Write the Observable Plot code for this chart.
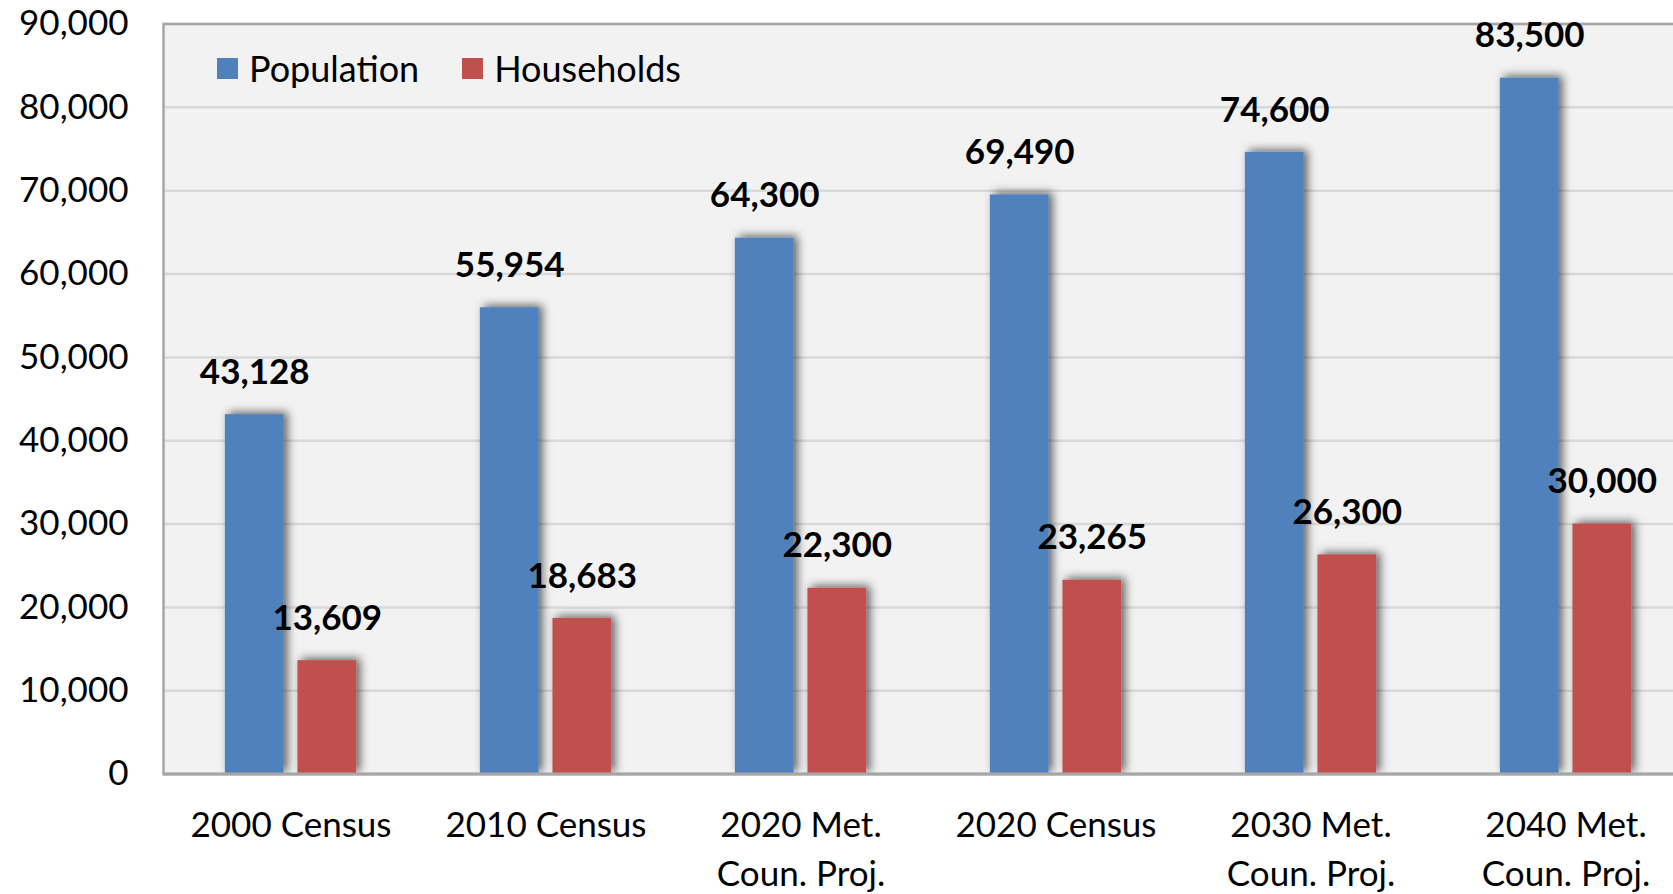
<!DOCTYPE html>
<html>
<head>
<meta charset="utf-8">
<script src="https://cdn.jsdelivr.net/npm/d3@7"></script>
<script src="https://cdn.jsdelivr.net/npm/@observablehq/plot@0.6"></script>
<style>
  html, body { margin: 0; padding: 0; background: #fff; overflow: hidden; }
  #wrap { position: relative; width: 1673px; height: 894px; font-family: Lato, "Open Sans", sans-serif; }
  #legend { position: absolute; left: 217px; top: 43px; height: 50px; display: flex; align-items: center; font-size: 36px; color: #000; }
  .item { display: flex; align-items: center; margin-right: 43px; }
  .sw { width: 21px; height: 21px; margin-right: 11px; }
</style>
</head>
<body>
<div id="wrap"><div id="legend"></div></div>
<script>
const categories = ["2000 Census", "2010 Census", "2020 Met.\nCoun. Proj.", "2020 Census", "2030 Met.\nCoun. Proj.", "2040 Met.\nCoun. Proj."];
const population = [43128, 55954, 64300, 69490, 74600, 83500];
const households = [13609, 18683, 22300, 23265, 26300, 30000];
const seriesNames = ["Population", "Households"];
const seriesColors = ["#4F81BD", "#C0504D"];
const yTicks = [0, 10000, 20000, 30000, 40000, 50000, 60000, 70000, 80000, 90000];

const popRows = categories.map((c, i) => ({category: c, series: seriesNames[0], value: population[i]}));
const hhRows = categories.map((c, i) => ({category: c, series: seriesNames[1], value: households[i]}));
const fmt = d3.format(",");
const FONT = "Lato, 'Open Sans', sans-serif";

const W = 1673, H = 894, ML = 163, MT = 23.5, MB = 120.4;
const step = 255;                  // category band width
const barW = 58.7, gap = 13.9;
const inNear = step / 2 - gap / 2 - barW; // outer inset
const inFar = step / 2 + gap / 2;         // inner inset
const off = (barW + gap) / 2;

const chart = Plot.plot({
  width: W,
  height: H,
  marginLeft: ML,
  marginRight: 0,
  marginTop: MT,
  marginBottom: MB,
  style: {fontSize: "35px", fontFamily: FONT, color: "#000", background: "#fff"},
  x: {type: "band", domain: categories, range: [ML, ML + step * categories.length], padding: 0, axis: null},
  y: {domain: [0, 90000], ticks: yTicks, tickFormat: fmt, tickSize: 0, tickPadding: 35, label: null},
  marks: [
    Plot.frame({fill: "#F2F2F2"}),
    Plot.ruleY(yTicks, {stroke: "#D9D9D9", strokeWidth: 2.5}),
    Plot.frame({stroke: "#A6A6A6", strokeWidth: 2.5, insetRight: -10}),
    Plot.barY(popRows, {x: "category", y: "value", fill: seriesColors[0], insetLeft: inNear, insetRight: inFar, clip: true}),
    Plot.barY(hhRows, {x: "category", y: "value", fill: seriesColors[1], insetLeft: inFar, insetRight: inNear, clip: true}),
    Plot.ruleY([0], {stroke: "#A6A6A6", strokeWidth: 3}),
    Plot.text(popRows, {x: "category", y: "value", text: d => fmt(d.value), dx: -off, dy: -42, fontSize: 35, fontWeight: "bold", fill: "#000", fontFamily: FONT}),
    Plot.text(hhRows, {x: "category", y: "value", text: d => fmt(d.value), dx: off, dy: -42, fontSize: 35, fontWeight: "bold", fill: "#000", fontFamily: FONT}),
    Plot.text(categories, {x: d => d, frameAnchor: "bottom", dy: 29, lineAnchor: "top", lineHeight: 1.38, text: d => d, fontSize: 35, fill: "#000", fontFamily: FONT})
  ]
});

// drop shadow on bars
const ns = "http://www.w3.org/2000/svg";
const defs = document.createElementNS(ns, "defs");
defs.innerHTML = '<filter id="barShadow" x="-60%" y="-10%" width="220%" height="130%"><feDropShadow dx="4" dy="-2" stdDeviation="5" flood-color="#000" flood-opacity="0.6"/></filter>';
chart.insertBefore(defs, chart.firstChild);
chart.querySelectorAll('g[aria-label="bar"]').forEach(g => g.setAttribute("filter", "url(#barShadow)"));

document.getElementById("wrap").insertBefore(chart, document.getElementById("legend"));

const legend = document.getElementById("legend");
seriesNames.forEach((n, i) => {
  const it = document.createElement("div");
  it.className = "item";
  it.innerHTML = `<div class="sw" style="background:${seriesColors[i]}"></div><span>${n}</span>`;
  legend.appendChild(it);
});
</script>
</body>
</html>
